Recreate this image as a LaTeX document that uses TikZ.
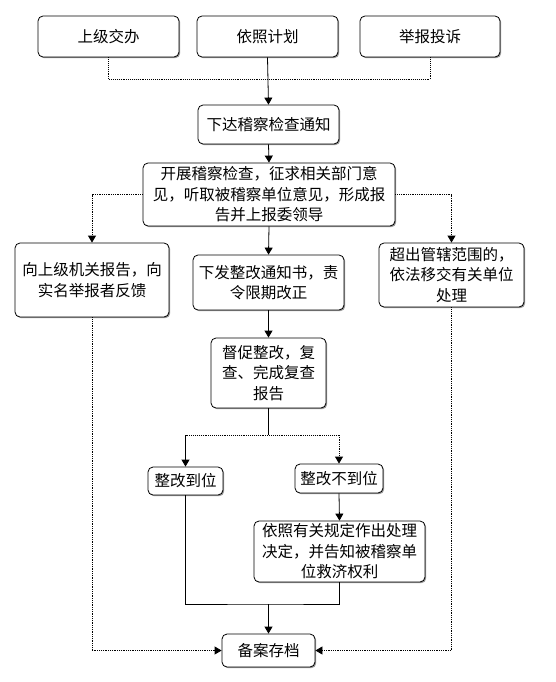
\documentclass[tikz,border=0pt]{standalone}
\usepackage{fontspec}
\newfontfamily\cjk{Noto Sans CJK SC}
\usetikzlibrary{arrows.meta,shadows}
\begin{document}
\begin{tikzpicture}[x=1pt,y=-1pt,
  box/.style={draw=black, line width=0.8pt, rounded corners=5pt, fill=white,
    inner sep=0pt, align=center, font=\cjk\fontsize{15.5}{20.5}\selectfont,
    drop shadow={shadow xshift=1.2pt, shadow yshift=-1.2pt, fill=black!40, opacity=1}},
  arr/.style={-{Triangle[width=8pt,length=7pt]}, line width=0.8pt},
  ln/.style={line width=0.8pt},
  dotl/.style={densely dotted, line width=0.9pt}]
\useasboundingbox (0,0) rectangle (555,682);
\node[box, minimum width=141pt, minimum height=41pt] (b1) at (108.5,36.5) {上级交办};
\node[box, minimum width=141pt, minimum height=41pt] (b2) at (267.5,36.5) {依照计划};
\node[box, minimum width=140pt, minimum height=41pt] (b3) at (430,36.5) {举报投诉};
\node[box, minimum width=141pt, minimum height=39pt] (n1) at (268.5,124.5) {下达稽察检查通知};
\node[box, minimum width=252pt, minimum height=63pt] (n2) at (269,194.5) {开展稽察检查，征求相关部门意\\见，听取被稽察单位意见，形成报\\告并上报委领导};
\node[box, minimum width=154pt, minimum height=74pt] (L) at (92,280) {向上级机关报告，向\\实名举报者反馈};
\node[box, minimum width=151pt, minimum height=55pt] (M) at (268.5,282.5) {下发整改通知书，责\\令限期改正};
\node[box, minimum width=145pt, minimum height=64pt] (R) at (451.5,275) {超出管辖范围的，\\依法移交有关单位\\处理};
\node[box, minimum width=115pt, minimum height=70pt] (D) at (268.5,373) {督促整改，复\\查、完成复查\\报告};
\node[box, minimum width=75pt, minimum height=28pt] (OK) at (185.5,481) {整改到位};
\node[box, minimum width=88pt, minimum height=29pt] (NO) at (339,478.5) {整改不到位};
\node[box, minimum width=171pt, minimum height=61pt] (P) at (339.5,551.5) {依照有关规定作出处理\\决定，并告知被稽察单\\位救济权利};
\node[box, minimum width=93pt, minimum height=33pt] (A) at (268.5,650.5) {备案存档};
\coordinate (bar) at (268,79.5);
\coordinate (sp) at (268.5,435);
\coordinate (mg) at (268.5,604);
\draw[dotl] (b1.south) -- (b1.south |- bar) -- (b3.south |- bar) -- (b3.south);
\draw[arr] (b2.south) -- (n1.north);
\draw[arr] (n1.south) -- (n2.north);
\draw[arr] (n2.south) -- (M.north);
\draw[dotl, arr] (n2.west) -| (L.north);
\draw[dotl, arr] (n2.east) -| (R.north);
\draw[arr] (M.south) -- (D.north);
\draw[ln] (D.south) -- (sp);
\draw[dotl] (OK.north |- sp) -- (NO.north |- sp);
\draw[arr] (OK.north |- sp) -- (OK.north);
\draw[dotl, arr] (NO.north |- sp) -- (NO.north);
\draw[arr] (NO.south) -- (P.north);
\draw[ln] (OK.south) |- (mg) -| (P.south);
\draw[arr] (mg) -- (A.north);
\draw[dotl, arr] (L.south) |- (A.west);
\draw[dotl, arr] (R.south) |- (A.east);
\end{tikzpicture}
\end{document}
